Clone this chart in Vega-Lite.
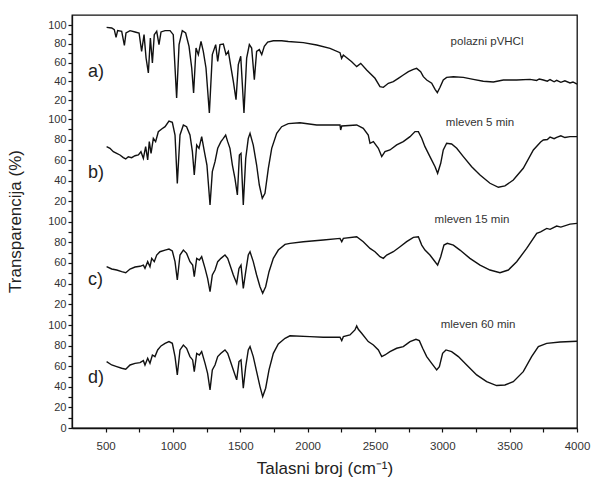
{
  "$schema": "https://vega.github.io/schema/vega-lite/v6.json",
  "width": 505,
  "height": 413,
  "autosize": {"type": "none"},
  "padding": {"left": 72, "top": 15, "right": 18, "bottom": 55},
  "background": "white",
  "config": {
    "view": {"stroke": "#111", "strokeWidth": 1.3},
    "font": "Liberation Sans"
  },
  "datasets": {
    "spectra": [
      {"p":"a","x":507,"t":97.5},{"p":"a","x":545,"t":96.8},{"p":"a","x":564,"t":95.0},{"p":"a","x":577,"t":86.9},{"p":"a","x":589,"t":94.0},{"p":"a","x":619,"t":93.3},{"p":"a","x":639,"t":78.4},{"p":"a","x":651,"t":91.5},{"p":"a","x":681,"t":94.0},{"p":"a","x":718,"t":92.6},{"p":"a","x":748,"t":91.5},{"p":"a","x":767,"t":72.0},{"p":"a","x":785,"t":89.7},{"p":"a","x":800,"t":64.9},{"p":"a","x":817,"t":49.0},{"p":"a","x":832,"t":86.2},{"p":"a","x":847,"t":59.6},{"p":"a","x":861,"t":89.7},{"p":"a","x":879,"t":93.3},{"p":"a","x":896,"t":79.1},{"p":"a","x":911,"t":92.6},{"p":"a","x":941,"t":94.0},{"p":"a","x":978,"t":94.0},{"p":"a","x":1002,"t":89.7},{"p":"a","x":1027,"t":22.3},{"p":"a","x":1045,"t":79.1},{"p":"a","x":1069,"t":94.0},{"p":"a","x":1094,"t":91.5},{"p":"a","x":1119,"t":77.3},{"p":"a","x":1139,"t":54.3},{"p":"a","x":1153,"t":27.7},{"p":"a","x":1171,"t":75.5},{"p":"a","x":1188,"t":68.5},{"p":"a","x":1208,"t":82.6},{"p":"a","x":1225,"t":72.0},{"p":"a","x":1245,"t":54.3},{"p":"a","x":1270,"t":6.4},{"p":"a","x":1292,"t":68.5},{"p":"a","x":1317,"t":79.1},{"p":"a","x":1332,"t":61.3},{"p":"a","x":1349,"t":79.1},{"p":"a","x":1374,"t":79.8},{"p":"a","x":1394,"t":68.5},{"p":"a","x":1411,"t":72.0},{"p":"a","x":1431,"t":54.3},{"p":"a","x":1448,"t":40.1},{"p":"a","x":1468,"t":20.6},{"p":"a","x":1485,"t":57.8},{"p":"a","x":1503,"t":66.7},{"p":"a","x":1527,"t":6.4},{"p":"a","x":1547,"t":64.9},{"p":"a","x":1567,"t":79.1},{"p":"a","x":1584,"t":75.5},{"p":"a","x":1604,"t":41.9},{"p":"a","x":1621,"t":72.0},{"p":"a","x":1641,"t":73.8},{"p":"a","x":1659,"t":68.5},{"p":"a","x":1678,"t":77.3},{"p":"a","x":1703,"t":81.9},{"p":"a","x":1745,"t":83.3},{"p":"a","x":1807,"t":83.3},{"p":"a","x":1856,"t":82.5},{"p":"a","x":1968,"t":81.2},{"p":"a","x":2067,"t":78.7},{"p":"a","x":2166,"t":75.2},{"p":"a","x":2240,"t":70.6},{"p":"a","x":2252,"t":64.5},{"p":"a","x":2265,"t":68.1},{"p":"a","x":2327,"t":61.0},{"p":"a","x":2364,"t":55.7},{"p":"a","x":2394,"t":59.2},{"p":"a","x":2438,"t":52.1},{"p":"a","x":2500,"t":43.3},{"p":"a","x":2537,"t":34.4},{"p":"a","x":2562,"t":33.7},{"p":"a","x":2599,"t":38.0},{"p":"a","x":2636,"t":39.7},{"p":"a","x":2673,"t":43.3},{"p":"a","x":2710,"t":46.8},{"p":"a","x":2748,"t":50.4},{"p":"a","x":2785,"t":52.8},{"p":"a","x":2809,"t":53.9},{"p":"a","x":2839,"t":50.4},{"p":"a","x":2859,"t":45.0},{"p":"a","x":2884,"t":41.5},{"p":"a","x":2921,"t":38.0},{"p":"a","x":2946,"t":31.6},{"p":"a","x":2963,"t":28.0},{"p":"a","x":2983,"t":33.7},{"p":"a","x":3007,"t":41.5},{"p":"a","x":3032,"t":44.3},{"p":"a","x":3082,"t":45.0},{"p":"a","x":3156,"t":44.3},{"p":"a","x":3230,"t":42.2},{"p":"a","x":3304,"t":40.1},{"p":"a","x":3379,"t":39.4},{"p":"a","x":3453,"t":41.5},{"p":"a","x":3552,"t":41.5},{"p":"a","x":3651,"t":42.2},{"p":"a","x":3700,"t":41.0},{"p":"a","x":3720,"t":42.6},{"p":"a","x":3750,"t":41.5},{"p":"a","x":3780,"t":40.2},{"p":"a","x":3800,"t":42.0},{"p":"a","x":3830,"t":39.6},{"p":"a","x":3849,"t":41.2},{"p":"a","x":3880,"t":39.0},{"p":"a","x":3910,"t":40.6},{"p":"a","x":3948,"t":38.4},{"p":"a","x":3970,"t":39.4},{"p":"a","x":4000,"t":37.2},
      {"p":"b","x":507,"t":73.0},{"p":"b","x":532,"t":71.4},{"p":"b","x":557,"t":68.1},{"p":"b","x":582,"t":66.5},{"p":"b","x":606,"t":64.9},{"p":"b","x":631,"t":62.3},{"p":"b","x":649,"t":61.0},{"p":"b","x":668,"t":63.2},{"p":"b","x":693,"t":62.3},{"p":"b","x":718,"t":64.2},{"p":"b","x":743,"t":64.9},{"p":"b","x":762,"t":68.1},{"p":"b","x":780,"t":61.6},{"p":"b","x":797,"t":73.0},{"p":"b","x":812,"t":60.0},{"p":"b","x":824,"t":77.9},{"p":"b","x":837,"t":66.5},{"p":"b","x":854,"t":81.1},{"p":"b","x":871,"t":77.9},{"p":"b","x":891,"t":87.6},{"p":"b","x":916,"t":90.2},{"p":"b","x":941,"t":92.5},{"p":"b","x":970,"t":98.0},{"p":"b","x":995,"t":96.7},{"p":"b","x":1015,"t":84.4},{"p":"b","x":1032,"t":37.2},{"p":"b","x":1052,"t":84.4},{"p":"b","x":1077,"t":94.1},{"p":"b","x":1101,"t":92.5},{"p":"b","x":1126,"t":84.4},{"p":"b","x":1144,"t":68.1},{"p":"b","x":1158,"t":45.4},{"p":"b","x":1176,"t":74.6},{"p":"b","x":1193,"t":71.4},{"p":"b","x":1213,"t":82.8},{"p":"b","x":1233,"t":68.1},{"p":"b","x":1252,"t":55.1},{"p":"b","x":1275,"t":16.1},{"p":"b","x":1292,"t":48.6},{"p":"b","x":1312,"t":58.4},{"p":"b","x":1332,"t":71.4},{"p":"b","x":1356,"t":77.9},{"p":"b","x":1374,"t":81.1},{"p":"b","x":1391,"t":84.4},{"p":"b","x":1406,"t":77.9},{"p":"b","x":1423,"t":71.4},{"p":"b","x":1441,"t":55.1},{"p":"b","x":1460,"t":42.1},{"p":"b","x":1478,"t":25.9},{"p":"b","x":1493,"t":64.9},{"p":"b","x":1505,"t":66.5},{"p":"b","x":1522,"t":16.1},{"p":"b","x":1540,"t":61.6},{"p":"b","x":1559,"t":81.1},{"p":"b","x":1572,"t":86.0},{"p":"b","x":1596,"t":74.6},{"p":"b","x":1621,"t":55.1},{"p":"b","x":1641,"t":35.6},{"p":"b","x":1663,"t":22.6},{"p":"b","x":1683,"t":27.5},{"p":"b","x":1708,"t":51.9},{"p":"b","x":1733,"t":71.4},{"p":"b","x":1770,"t":86.0},{"p":"b","x":1807,"t":92.5},{"p":"b","x":1856,"t":95.5},{"p":"b","x":1943,"t":96.4},{"p":"b","x":2067,"t":94.2},{"p":"b","x":2240,"t":94.2},{"p":"b","x":2245,"t":89.3},{"p":"b","x":2253,"t":93.2},{"p":"b","x":2364,"t":94.2},{"p":"b","x":2413,"t":90.9},{"p":"b","x":2450,"t":84.4},{"p":"b","x":2463,"t":76.3},{"p":"b","x":2488,"t":77.9},{"p":"b","x":2525,"t":71.4},{"p":"b","x":2550,"t":63.3},{"p":"b","x":2574,"t":68.1},{"p":"b","x":2611,"t":69.8},{"p":"b","x":2661,"t":74.7},{"p":"b","x":2710,"t":77.9},{"p":"b","x":2760,"t":82.8},{"p":"b","x":2797,"t":87.7},{"p":"b","x":2822,"t":87.7},{"p":"b","x":2847,"t":81.2},{"p":"b","x":2871,"t":73.0},{"p":"b","x":2908,"t":63.3},{"p":"b","x":2946,"t":53.5},{"p":"b","x":2965,"t":47.0},{"p":"b","x":2988,"t":56.8},{"p":"b","x":3007,"t":69.8},{"p":"b","x":3032,"t":76.3},{"p":"b","x":3069,"t":75.6},{"p":"b","x":3107,"t":71.4},{"p":"b","x":3156,"t":63.3},{"p":"b","x":3218,"t":53.5},{"p":"b","x":3280,"t":45.4},{"p":"b","x":3354,"t":37.3},{"p":"b","x":3416,"t":33.4},{"p":"b","x":3465,"t":34.7},{"p":"b","x":3527,"t":40.5},{"p":"b","x":3601,"t":51.9},{"p":"b","x":3676,"t":69.8},{"p":"b","x":3730,"t":77.5},{"p":"b","x":3750,"t":79.5},{"p":"b","x":3780,"t":80.0},{"p":"b","x":3800,"t":82.4},{"p":"b","x":3830,"t":80.8},{"p":"b","x":3849,"t":82.1},{"p":"b","x":3880,"t":83.6},{"p":"b","x":3910,"t":81.9},{"p":"b","x":3948,"t":82.8},{"p":"b","x":4000,"t":82.8},
      {"p":"c","x":507,"t":56.3},{"p":"c","x":545,"t":54.1},{"p":"c","x":582,"t":53.1},{"p":"c","x":619,"t":51.5},{"p":"c","x":649,"t":50.5},{"p":"c","x":681,"t":54.1},{"p":"c","x":718,"t":56.0},{"p":"c","x":755,"t":56.7},{"p":"c","x":780,"t":57.9},{"p":"c","x":792,"t":54.7},{"p":"c","x":812,"t":61.2},{"p":"c","x":829,"t":56.3},{"p":"c","x":842,"t":64.4},{"p":"c","x":861,"t":61.2},{"p":"c","x":879,"t":67.6},{"p":"c","x":903,"t":70.8},{"p":"c","x":941,"t":72.4},{"p":"c","x":970,"t":73.4},{"p":"c","x":995,"t":71.5},{"p":"c","x":1015,"t":61.2},{"p":"c","x":1032,"t":43.5},{"p":"c","x":1052,"t":67.6},{"p":"c","x":1077,"t":72.4},{"p":"c","x":1101,"t":69.2},{"p":"c","x":1126,"t":61.2},{"p":"c","x":1146,"t":57.9},{"p":"c","x":1158,"t":46.7},{"p":"c","x":1176,"t":64.4},{"p":"c","x":1196,"t":62.8},{"p":"c","x":1213,"t":66.0},{"p":"c","x":1238,"t":54.7},{"p":"c","x":1257,"t":45.1},{"p":"c","x":1275,"t":32.2},{"p":"c","x":1292,"t":48.3},{"p":"c","x":1312,"t":53.1},{"p":"c","x":1332,"t":61.2},{"p":"c","x":1356,"t":64.4},{"p":"c","x":1386,"t":67.6},{"p":"c","x":1406,"t":64.4},{"p":"c","x":1423,"t":57.9},{"p":"c","x":1448,"t":48.3},{"p":"c","x":1473,"t":40.2},{"p":"c","x":1490,"t":54.7},{"p":"c","x":1505,"t":57.9},{"p":"c","x":1522,"t":35.4},{"p":"c","x":1540,"t":51.5},{"p":"c","x":1559,"t":67.6},{"p":"c","x":1572,"t":70.8},{"p":"c","x":1596,"t":61.2},{"p":"c","x":1621,"t":48.3},{"p":"c","x":1646,"t":37.0},{"p":"c","x":1666,"t":30.6},{"p":"c","x":1688,"t":37.0},{"p":"c","x":1713,"t":51.5},{"p":"c","x":1745,"t":64.4},{"p":"c","x":1782,"t":72.4},{"p":"c","x":1832,"t":77.9},{"p":"c","x":1869,"t":78.9},{"p":"c","x":1968,"t":80.5},{"p":"c","x":2116,"t":82.1},{"p":"c","x":2240,"t":83.7},{"p":"c","x":2253,"t":80.5},{"p":"c","x":2265,"t":83.7},{"p":"c","x":2364,"t":85.3},{"p":"c","x":2413,"t":80.5},{"p":"c","x":2463,"t":74.0},{"p":"c","x":2500,"t":70.8},{"p":"c","x":2537,"t":66.0},{"p":"c","x":2562,"t":64.4},{"p":"c","x":2587,"t":67.6},{"p":"c","x":2636,"t":70.8},{"p":"c","x":2686,"t":75.6},{"p":"c","x":2735,"t":80.5},{"p":"c","x":2785,"t":84.7},{"p":"c","x":2822,"t":85.3},{"p":"c","x":2847,"t":77.2},{"p":"c","x":2871,"t":72.4},{"p":"c","x":2908,"t":67.6},{"p":"c","x":2946,"t":61.1},{"p":"c","x":2965,"t":57.9},{"p":"c","x":2988,"t":66.0},{"p":"c","x":3012,"t":77.2},{"p":"c","x":3037,"t":78.9},{"p":"c","x":3082,"t":77.2},{"p":"c","x":3131,"t":72.4},{"p":"c","x":3205,"t":64.4},{"p":"c","x":3280,"t":57.9},{"p":"c","x":3354,"t":53.1},{"p":"c","x":3428,"t":50.5},{"p":"c","x":3490,"t":53.1},{"p":"c","x":3552,"t":61.1},{"p":"c","x":3626,"t":74.0},{"p":"c","x":3701,"t":88.5},{"p":"c","x":3730,"t":90.0},{"p":"c","x":3775,"t":93.3},{"p":"c","x":3800,"t":92.4},{"p":"c","x":3849,"t":95.6},{"p":"c","x":3880,"t":94.6},{"p":"c","x":3948,"t":97.5},{"p":"c","x":4000,"t":98.2},
      {"p":"d","x":507,"t":64.4},{"p":"d","x":545,"t":61.2},{"p":"d","x":582,"t":59.6},{"p":"d","x":619,"t":58.0},{"p":"d","x":649,"t":57.0},{"p":"d","x":681,"t":61.2},{"p":"d","x":718,"t":62.8},{"p":"d","x":755,"t":63.5},{"p":"d","x":780,"t":65.4},{"p":"d","x":792,"t":61.2},{"p":"d","x":812,"t":67.7},{"p":"d","x":829,"t":62.8},{"p":"d","x":847,"t":70.9},{"p":"d","x":866,"t":69.3},{"p":"d","x":886,"t":75.8},{"p":"d","x":911,"t":79.7},{"p":"d","x":941,"t":82.2},{"p":"d","x":970,"t":83.9},{"p":"d","x":995,"t":82.2},{"p":"d","x":1015,"t":69.3},{"p":"d","x":1032,"t":51.5},{"p":"d","x":1052,"t":75.8},{"p":"d","x":1077,"t":80.6},{"p":"d","x":1101,"t":77.4},{"p":"d","x":1126,"t":69.3},{"p":"d","x":1146,"t":66.1},{"p":"d","x":1158,"t":54.7},{"p":"d","x":1176,"t":72.5},{"p":"d","x":1196,"t":70.9},{"p":"d","x":1213,"t":74.2},{"p":"d","x":1238,"t":62.8},{"p":"d","x":1257,"t":53.1},{"p":"d","x":1275,"t":37.0},{"p":"d","x":1292,"t":56.4},{"p":"d","x":1312,"t":61.2},{"p":"d","x":1332,"t":69.3},{"p":"d","x":1356,"t":72.5},{"p":"d","x":1386,"t":75.8},{"p":"d","x":1406,"t":72.5},{"p":"d","x":1423,"t":66.1},{"p":"d","x":1448,"t":56.4},{"p":"d","x":1473,"t":46.7},{"p":"d","x":1490,"t":64.5},{"p":"d","x":1505,"t":66.1},{"p":"d","x":1522,"t":38.6},{"p":"d","x":1540,"t":59.6},{"p":"d","x":1559,"t":75.8},{"p":"d","x":1572,"t":79.0},{"p":"d","x":1596,"t":69.3},{"p":"d","x":1621,"t":54.7},{"p":"d","x":1646,"t":40.2},{"p":"d","x":1666,"t":30.5},{"p":"d","x":1688,"t":38.6},{"p":"d","x":1713,"t":56.4},{"p":"d","x":1745,"t":72.5},{"p":"d","x":1782,"t":81.6},{"p":"d","x":1832,"t":87.1},{"p":"d","x":1869,"t":89.5},{"p":"d","x":2017,"t":88.7},{"p":"d","x":2116,"t":88.1},{"p":"d","x":2240,"t":88.1},{"p":"d","x":2253,"t":84.8},{"p":"d","x":2265,"t":88.7},{"p":"d","x":2314,"t":90.3},{"p":"d","x":2351,"t":95.2},{"p":"d","x":2364,"t":99.1},{"p":"d","x":2376,"t":95.8},{"p":"d","x":2401,"t":92.0},{"p":"d","x":2450,"t":83.9},{"p":"d","x":2488,"t":80.6},{"p":"d","x":2525,"t":75.8},{"p":"d","x":2550,"t":69.3},{"p":"d","x":2574,"t":70.9},{"p":"d","x":2611,"t":74.2},{"p":"d","x":2661,"t":77.4},{"p":"d","x":2710,"t":79.0},{"p":"d","x":2760,"t":83.9},{"p":"d","x":2804,"t":86.1},{"p":"d","x":2829,"t":84.8},{"p":"d","x":2854,"t":77.4},{"p":"d","x":2884,"t":69.3},{"p":"d","x":2921,"t":62.8},{"p":"d","x":2958,"t":56.4},{"p":"d","x":2978,"t":59.6},{"p":"d","x":3002,"t":72.5},{"p":"d","x":3027,"t":75.8},{"p":"d","x":3069,"t":74.2},{"p":"d","x":3119,"t":69.3},{"p":"d","x":3181,"t":61.2},{"p":"d","x":3255,"t":51.5},{"p":"d","x":3329,"t":45.0},{"p":"d","x":3403,"t":41.2},{"p":"d","x":3465,"t":41.8},{"p":"d","x":3527,"t":45.0},{"p":"d","x":3601,"t":54.7},{"p":"d","x":3663,"t":69.3},{"p":"d","x":3713,"t":79.0},{"p":"d","x":3775,"t":82.2},{"p":"d","x":3874,"t":83.5},{"p":"d","x":4000,"t":84.2}
    ],
    "labels": [
      {"x":369,"ys":350,"text":"a)","kind":"panel"},
      {"x":369,"ys":247,"text":"b)","kind":"panel"},
      {"x":369,"ys":143.5,"text":"c)","kind":"panel"},
      {"x":369,"ys":48.5,"text":"d)","kind":"panel"},
      {"x":3332,"ys":382,"text":"polazni pVHCl","kind":"name"},
      {"x":3280,"ys":296,"text":"mleven 5 min","kind":"name"},
      {"x":3220,"ys":201.5,"text":"mleven 15 min","kind":"name"},
      {"x":3265,"ys":100,"text":"mleven 60 min","kind":"name"}
    ]
  },
  "encoding": {
    "x": {
      "field": "x", "type": "quantitative",
      "scale": {"domain": [250, 4000], "nice": false, "zero": false},
      "axis": {
        "title": "Talasni broj (cm⁻¹)",
        "titleFont": "Liberation Sans", "titleColor": "#222",
        "titleFontSize": 17, "titleFontWeight": "normal",
        "titleY": 40, "titleBaseline": "middle",
        "values": [500,750,1000,1250,1500,1750,2000,2250,2500,2750,3000,3250,3500,3750,4000],
        "labelExpr": "datum.value % 500 === 0 ? '' + datum.value : ''",
        "labelOverlap": false, "labelFlush": false,
        "labelFont": "Liberation Sans", "labelColor": "#333",
        "labelFontSize": 11.5, "labelPadding": 8,
        "ticks": true, "tickSize": 4, "tickColor": "#111", "tickWidth": 1.2,
        "domain": true, "domainColor": "#111", "domainWidth": 1.3,
        "grid": false
      }
    },
    "y": {
      "field": "ys", "type": "quantitative",
      "scale": {"domain": [0,100,200,300,400,410], "range": [413,310,206.5,104,10,0], "nice": false, "zero": false},
      "axis": {
        "title": "Transparencija (%)",
        "titleFont": "Liberation Sans", "titleColor": "#222",
        "titleFontSize": 17, "titleFontWeight": "normal",
        "titleX": -57, "titleY": 206, "titleAngle": -90, "titleAlign": "center", "titleBaseline": "middle",
        "values": [0,10,20,30,40,50,60,70,80,90,100,110,120,130,140,150,160,170,180,190,200,210,220,230,240,250,260,270,280,290,300,310,320,330,340,350,360,370,380,390,400],
        "labelExpr": "datum.value % 20 !== 0 ? '' : (datum.value === 0 ? '0' : (datum.value % 100 === 0 ? '100' : '' + (datum.value % 100)))",
        "labelOverlap": false, "labelFlush": false,
        "labelFont": "Liberation Sans", "labelColor": "#333",
        "labelFontSize": 11, "labelPadding": 2,
        "ticks": true, "tickSize": 4, "tickColor": "#111", "tickWidth": 1.2,
        "domain": true, "domainColor": "#111", "domainWidth": 1.3,
        "grid": false
      }
    }
  },
  "layer": [
    {
      "data": {"name": "spectra"},
      "transform": [
        {"calculate": "{'a':300,'b':200,'c':100,'d':0}[datum.p]", "as": "off"},
        {"calculate": "datum.t + datum.off", "as": "ys"}
      ],
      "mark": {"type": "line", "color": "#111", "strokeWidth": 1.4, "clip": true},
      "encoding": {"detail": {"field": "p"}}
    },
    {
      "data": {"name": "labels"},
      "transform": [{"filter": "datum.kind === 'panel'"}],
      "mark": {"type": "text", "align": "left", "baseline": "middle", "fontSize": 18, "font": "Liberation Sans", "color": "#222"},
      "encoding": {"text": {"field": "text"}}
    },
    {
      "data": {"name": "labels"},
      "transform": [{"filter": "datum.kind === 'name'"}],
      "mark": {"type": "text", "align": "center", "baseline": "middle", "fontSize": 11.5, "font": "Liberation Sans", "color": "#333"},
      "encoding": {"text": {"field": "text"}}
    }
  ]
}
